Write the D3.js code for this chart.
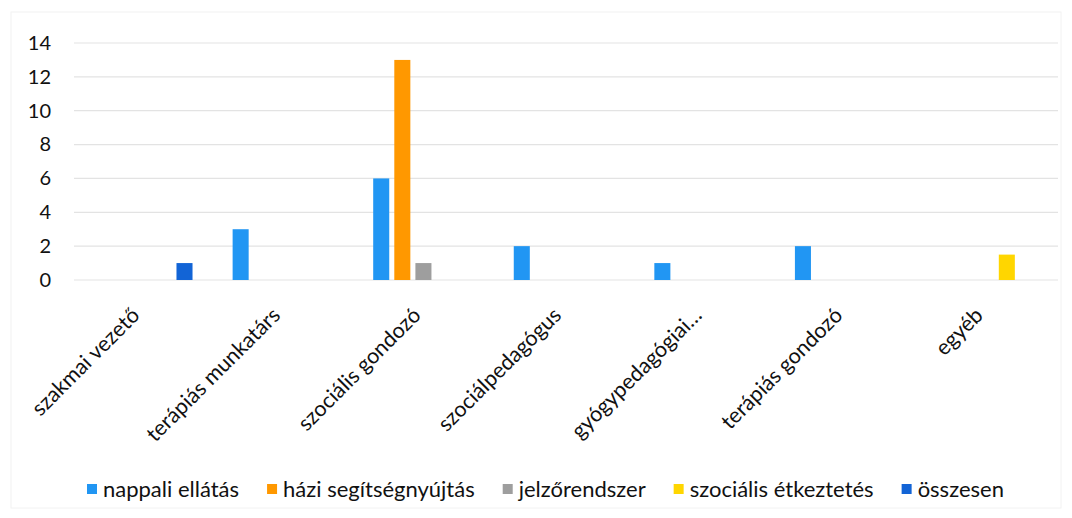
<!DOCTYPE html>
<html>
<head>
<meta charset="utf-8">
<script src="https://cdn.jsdelivr.net/npm/d3@7"></script>
<style>
  body { margin: 0; background: #fff; }
  svg { display: block; font-family: Lato, "Open Sans", sans-serif; }
  .grid line { stroke: #e3e3e3; stroke-width: 1.2; }
</style>
</head>
<body>
<svg width="1072" height="518"></svg>
<script>
// data
const categories = ["szakmai vezető", "terápiás munkatárs", "szociális gondozó", "szociálpedagógus",
                    "gyógypedagógiai…", "terápiás gondozó", "egyéb"];
const seriesNames = ["nappali ellátás", "házi segítségnyújtás", "jelzőrendszer", "szociális étkeztetés", "összesen"];
const nappali   = [0, 3, 6, 2, 1, 2, 0];
const hazi      = [0, 0, 13, 0, 0, 0, 0];
const jelzo     = [0, 0, 1, 0, 0, 0, 0];
const etkeztetes = [0, 0, 0, 0, 0, 0, 1.5];
const osszesen  = [1, 0, 0, 0, 0, 0, 0];
const yTicks = [0, 2, 4, 6, 8, 10, 12, 14];
const colors = ["#2196f3", "#ff9800", "#9e9e9e", "#ffd600", "#1264d6"];

const seriesValues = [nappali, hazi, jelzo, etkeztetes, osszesen];

let svg = d3.select("svg");

// faint outer frame
svg.append("rect")
   .attr("x", 11).attr("y", 12)
   .attr("width", 1072 - 22).attr("height", 518 - 22)
   .attr("fill", "none")
   .attr("stroke", "#f2f2f2");

let x0 = d3.scaleBand()
    .domain(categories)
    .range([72, 1056])
    .padding(0);

let x1 = d3.scaleBand()
    .domain(seriesNames)
    .range([0, x0.bandwidth()])
    .paddingInner(0.24)
    .paddingOuter(0.95);

let y = d3.scaleLinear()
    .domain([0, 14])
    .range([280, 43]);

let color = d3.scaleOrdinal().domain(seriesNames).range(colors);

// gridlines
svg.append("g")
   .attr("class", "grid")
   .selectAll("line")
   .data(yTicks)
   .enter().append("line")
   .attr("x1", 74).attr("x2", 1058)
   .attr("y1", d => y(d)).attr("y2", d => y(d));

// y axis labels
let yAxis = d3.axisLeft(y).tickValues(yTicks).tickSize(0).tickPadding(0);
let yg = svg.append("g")
   .attr("transform", "translate(51,0)")
   .call(yAxis);
yg.select(".domain").remove();
yg.selectAll("text")
  .attr("font-size", 20)
  .attr("font-family", "Lato, sans-serif")
  .attr("fill", "#111");

// bars
let rows = [];
categories.forEach((c, i) => {
    seriesNames.forEach((s, j) => {
        rows.push({cat: c, series: s, value: seriesValues[j][i]});
    });
});

svg.append("g")
   .selectAll(".bar")
   .data(rows.filter(d => d.value > 0))
   .enter().append("rect")
   .attr("class", "bar")
   .attr("x", d => x0(d.cat) + x1(d.series))
   .attr("y", d => y(d.value))
   .attr("width", x1.bandwidth())
   .attr("height", d => y(0) - y(d.value))
   .attr("fill", d => color(d.series));

// rotated category labels
svg.append("g")
   .selectAll("text")
   .data(categories)
   .enter().append("text")
   .attr("transform", d => "translate(" + (x0(d) + x0.bandwidth() / 2 - 12) + ",306) rotate(-45)")
   .attr("text-anchor", "end")
   .attr("dy", "0.7em")
   .attr("font-size", 21.5)
   .attr("fill", "#111")
   .text(d => d);

// legend
let legend = svg.append("g").attr("transform", "translate(87,489)");
let lx = 0;
seriesNames.forEach((s, i) => {
    let item = legend.append("g").attr("transform", "translate(" + lx + ",0)");
    item.append("rect")
        .attr("x", 0).attr("y", -5)
        .attr("width", 10).attr("height", 10)
        .attr("fill", colors[i]);
    let t = item.append("text")
        .attr("x", 16)
        .attr("dy", "0.35em")
        .attr("font-size", 22)
        .attr("fill", "#111")
        .text(s);
    lx += 16 + t.node().getComputedTextLength() + 28;
});
</script>
</body>
</html>
